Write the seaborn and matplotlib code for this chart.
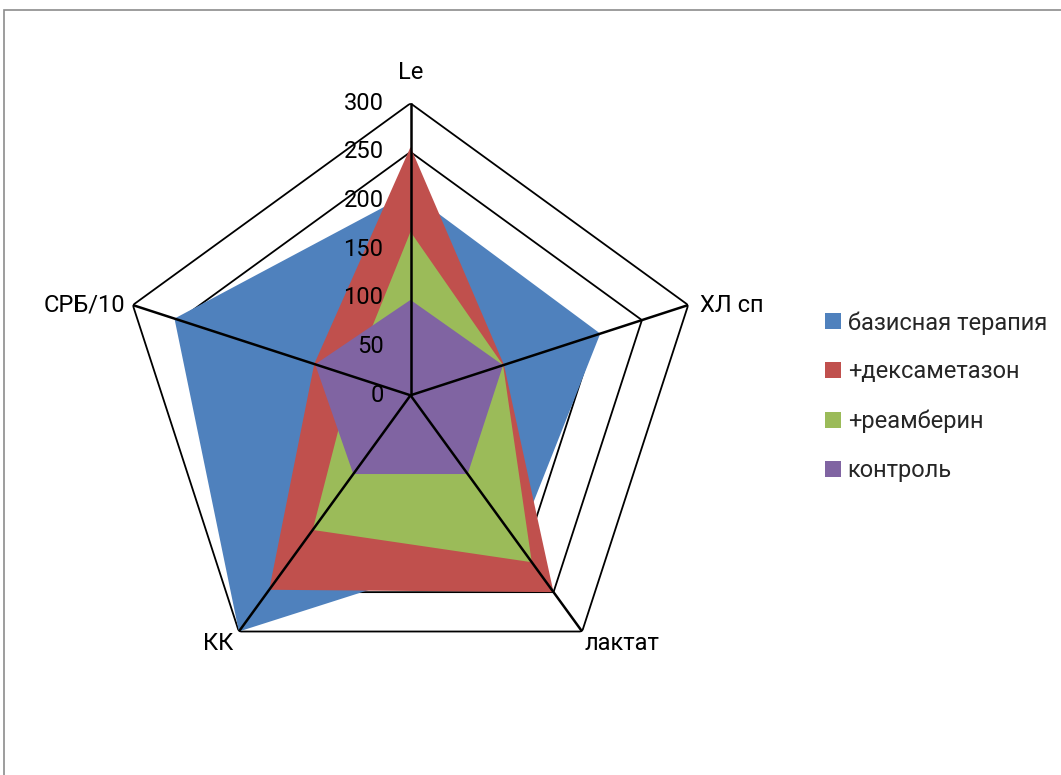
import numpy as np
import matplotlib
matplotlib.use('Agg')
import matplotlib.pyplot as plt
import seaborn as sns
from matplotlib.patches import Rectangle, Patch

# Данные (значения, % к контролю)
categories = ['Le', 'ХЛ сп', 'лактат', 'КК', 'СРБ/10']
series_names = ['базисная терапия', '+дексаметазон', '+реамберин', 'контроль']
basic = [208, 205, 187, 300, 255]
dexa = [255, 101, 250, 247, 104]
ream = [168, 100, 212, 171, 63]
control = [98, 100, 100, 100, 103]
r_ticks = [0, 50, 100, 150, 200, 250, 300]

colors = ['#4F81BD', '#C0504D', '#9BBB59', '#8064A2']

sns.set_theme(style='white')
plt.rcParams['font.family'] = ['Roboto', 'DejaVu Sans']
fs = 17

fig = plt.figure(figsize=(10.61, 7.75), dpi=100)
ax = fig.add_axes([0.1117, 0.1132, 0.5504, 0.7535], projection='polar')
ax.set_theta_zero_location('N')
ax.set_theta_direction(-1)
ax.set_ylim(0, r_ticks[-1])
ax.grid(False)
ax.spines['polar'].set_visible(False)
ax.set_xticks([])
ax.set_yticks([])
ax.patch.set_alpha(0)

angles = np.linspace(0, 2 * np.pi, len(categories), endpoint=False)
closed = np.append(angles, angles[0])

# Пятиугольная сетка (под заливкой)
for lvl in r_ticks[1:]:
    ax.plot(closed, [lvl] * len(closed), color='black', lw=1.3, zorder=1)

# Заливки рядов
for i, vals in enumerate([basic, dexa, ream, control]):
    ax.fill(closed, vals + vals[:1], color=colors[i], lw=0, zorder=2 + i)

# Оси-лучи (поверх заливки)
for a in angles:
    ax.plot([a, a], [0, r_ticks[-1]], color='black', lw=1.8, zorder=10)

# Подписи шкалы
for v in r_ticks:
    ax.annotate(str(v), xy=(0, v), xytext=(-27, 0), textcoords='offset pixels',
                ha='right', va='center', fontsize=fs, color='black', zorder=11)

# Подписи категорий
label_pos = [((0, 31), 'center'), ((12, 0), 'left'), ((2, -12), 'left'),
             ((-6, -12), 'right'), ((-8, 0), 'right')]
for a, name, (off, ha) in zip(angles, categories, label_pos):
    ax.annotate(name, xy=(a, r_ticks[-1]), xytext=off, textcoords='offset pixels',
                ha=ha, va='center', fontsize=fs, color='black')

# Легенда
handles = [Patch(facecolor=c, edgecolor='none') for c in colors]
fig.legend(handles, series_names, loc='upper left',
           bbox_to_anchor=(825 / 1061, 1 - 311 / 775), frameon=False,
           fontsize=fs, handlelength=0.66, handleheight=0.66,
           handletextpad=0.3, labelspacing=1.1, borderpad=0, borderaxespad=0)

# Рамка области диаграммы
fig.add_artist(Rectangle((4 / 1061, -0.1), 2, 1.1 - 10.5 / 775,
                         transform=fig.transFigure, fill=False,
                         edgecolor='#8c8c8c', lw=1.2))

fig.savefig('out.png', dpi=100)
